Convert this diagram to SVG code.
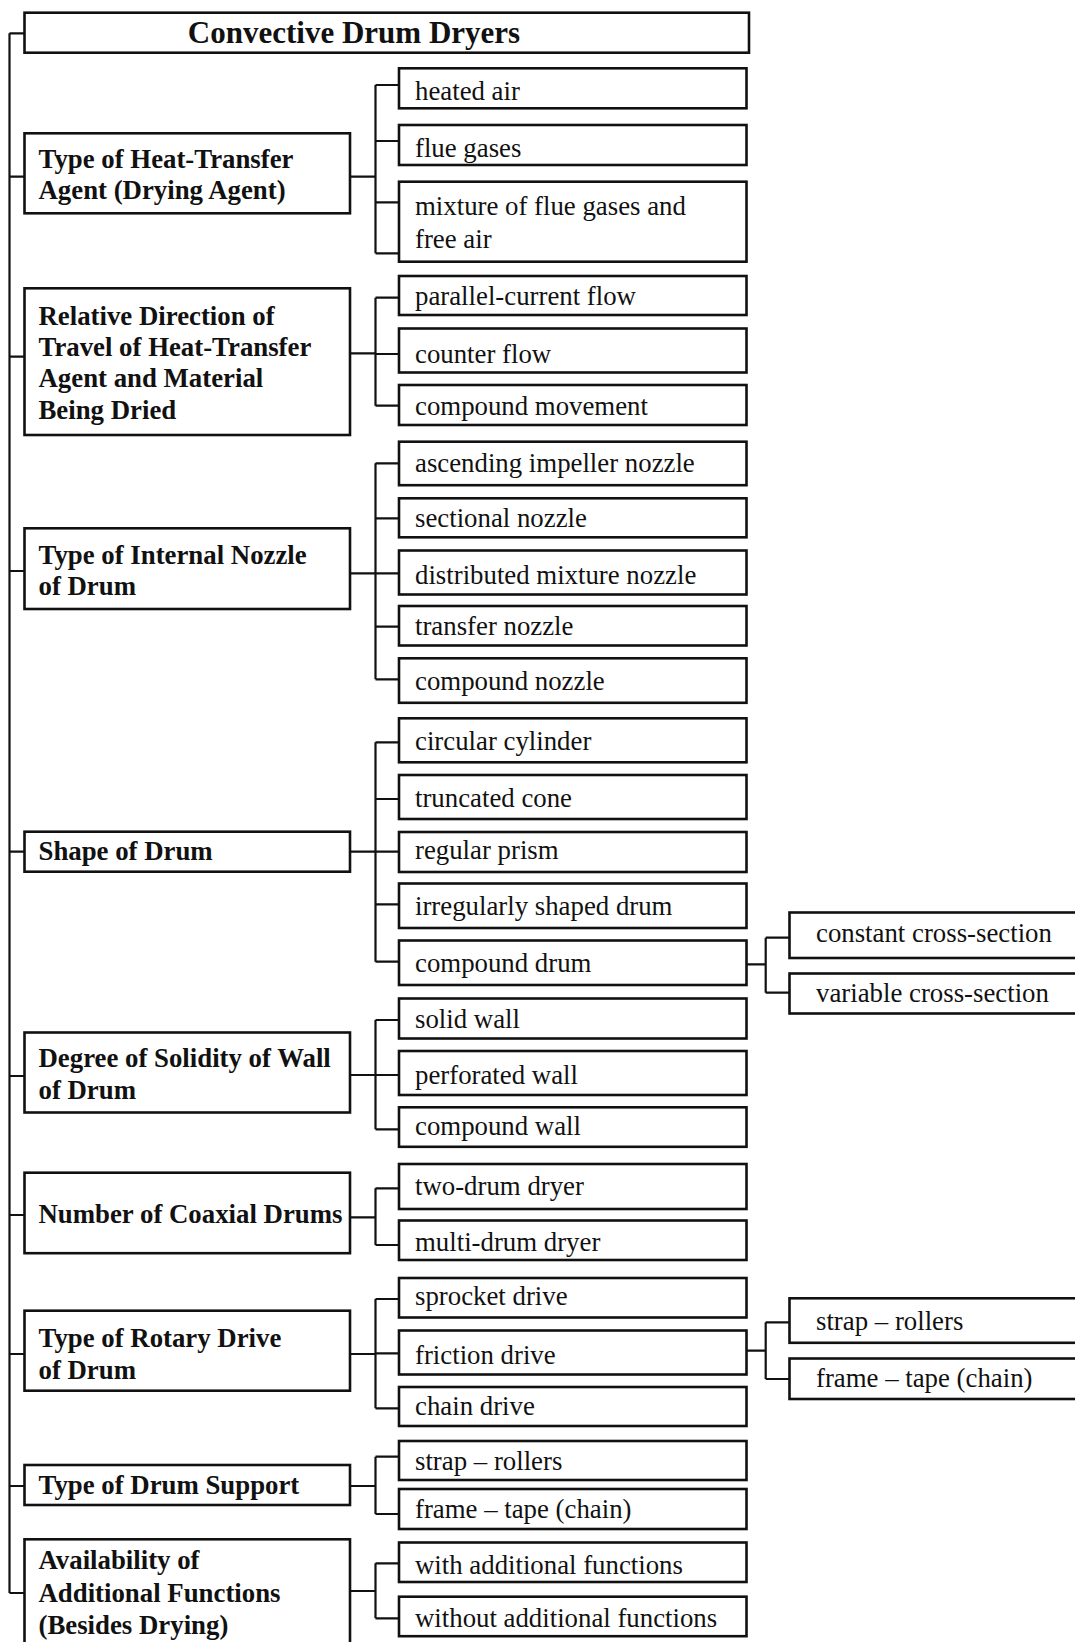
<svg xmlns="http://www.w3.org/2000/svg" width="1075" height="1642" viewBox="0 0 1075 1642">
<style>
.box{fill:#fff;stroke:#111;stroke-width:2.6}
.conn{fill:none;stroke:#111;stroke-width:2.2}
text{font-family:"Liberation Serif","Times New Roman",serif;fill:#111;font-size:26.8px}
.cat{font-weight:bold}
.title{font-weight:bold;font-size:31px;text-anchor:middle}
</style>
<rect width="1075" height="1642" fill="#fff"/>
<g id="connectors" class="conn">
<path d="M9.5 33.3V1593M9.5 33.3H24.5M9.5 176.7H24.5M9.5 356.7H24.5M9.5 571H24.5M9.5 851.7H24.5M9.5 1076H24.5M9.5 1215H24.5M9.5 1354H24.5M9.5 1486H24.5M9.5 1593H24.5"/>
<path d="M350 176.7H375.5M375.5 85V253.3M375.5 85H399M375.5 141H399M375.5 202.3H399M375.5 253.3H399"/>
<path d="M350 353.3H375.5M375.5 297.7V405.7M375.5 297.7H399M375.5 354H399M375.5 405.7H399"/>
<path d="M350 573.3H375.5M375.5 463.3V679.3M375.5 463.3H399M375.5 518.3H399M375.5 573.3H399M375.5 626.7H399M375.5 679.3H399"/>
<path d="M350 851.7H375.5M375.5 742.3V961.7M375.5 742.3H399M375.5 799H399M375.5 851.7H399M375.5 904.3H399M375.5 961.7H399"/>
<path d="M746.5 964.3H765.7M765.7 937.7V992.7M765.7 937.7H789.5M765.7 992.7H789.5"/>
<path d="M350 1075H375.5M375.5 1020V1129.3M375.5 1020H399M375.5 1075H399M375.5 1129.3H399"/>
<path d="M350 1217.3H375.5M375.5 1188.3V1245M375.5 1188.3H399M375.5 1245H399"/>
<path d="M350 1354H375.5M375.5 1299V1408.3M375.5 1299H399M375.5 1353.3H399M375.5 1408.3H399"/>
<path d="M746.5 1350.7H765.7M765.7 1322.3V1379M765.7 1322.3H789.5M765.7 1379H789.5"/>
<path d="M350 1486H375.5M375.5 1456.7V1514M375.5 1456.7H399M375.5 1514H399"/>
<path d="M350 1591H375.5M375.5 1563.3V1618.3M375.5 1563.3H399M375.5 1618.3H399"/>
</g>
<g id="title"><rect class="box" x="24.5" y="12.7" width="724.5" height="40"/><text class="title" x="354" y="43">Convective Drum Dryers</text></g>

<g id="cat1"><rect class="box" x="24.5" y="133.3" width="325.5" height="80"/><text class="cat" x="38.5" y="167.5">Type of Heat-Transfer</text><text class="cat" x="38.5" y="198.5">Agent (Drying Agent)</text></g>
<g id="heated-air"><rect class="box" x="399" y="68.3" width="347.5" height="40"/><text x="415" y="100">heated air</text></g>
<g id="flue-gases"><rect class="box" x="399" y="125" width="347.5" height="40"/><text x="415" y="157">flue gases</text></g>
<g id="mixture"><rect class="box" x="399" y="181.7" width="347.5" height="80"/><text x="415" y="215">mixture of flue gases and</text><text x="415" y="248">free air</text></g>

<g id="cat2"><rect class="box" x="24.5" y="288.3" width="325.5" height="146.7"/><text class="cat" x="38.5" y="324.5">Relative Direction of</text><text class="cat" x="38.5" y="356">Travel of Heat-Transfer</text><text class="cat" x="38.5" y="387">Agent and Material</text><text class="cat" x="38.5" y="418.5">Being Dried</text></g>
<g id="parallel"><rect class="box" x="399" y="276" width="347.5" height="39"/><text x="415" y="305">parallel-current flow</text></g>
<g id="counter"><rect class="box" x="399" y="328.5" width="347.5" height="44"/><text x="415" y="363">counter flow</text></g>
<g id="compound-movement"><rect class="box" x="399" y="385" width="347.5" height="40"/><text x="415" y="415">compound movement</text></g>

<g id="cat3"><rect class="box" x="24.5" y="528.3" width="325.5" height="80.7"/><text class="cat" x="38.5" y="563.5">Type of Internal Nozzle</text><text class="cat" x="38.5" y="595">of Drum</text></g>
<g id="ascending"><rect class="box" x="399" y="441.7" width="347.5" height="43.5"/><text x="415" y="472">ascending impeller nozzle</text></g>
<g id="sectional"><rect class="box" x="399" y="498.3" width="347.5" height="39"/><text x="415" y="527">sectional nozzle</text></g>
<g id="distributed"><rect class="box" x="399" y="550.5" width="347.5" height="44"/><text x="415" y="583.5">distributed mixture nozzle</text></g>
<g id="transfer"><rect class="box" x="399" y="606" width="347.5" height="39.5"/><text x="415" y="635">transfer nozzle</text></g>
<g id="compound-nozzle"><rect class="box" x="399" y="658.3" width="347.5" height="44.5"/><text x="415" y="690">compound nozzle</text></g>

<g id="cat4"><rect class="box" x="24.5" y="831.7" width="325.5" height="40"/><text class="cat" x="38.5" y="860">Shape of Drum</text></g>
<g id="circular"><rect class="box" x="399" y="718.3" width="347.5" height="44"/><text x="415" y="750">circular cylinder</text></g>
<g id="truncated"><rect class="box" x="399" y="775" width="347.5" height="44"/><text x="415" y="807">truncated cone</text></g>
<g id="prism"><rect class="box" x="399" y="832" width="347.5" height="40"/><text x="415" y="858.5">regular prism</text></g>
<g id="irregular"><rect class="box" x="399" y="883.5" width="347.5" height="44.5"/><text x="415" y="915">irregularly shaped drum</text></g>
<g id="compound-drum"><rect class="box" x="399" y="940.5" width="347.5" height="44.5"/><text x="415" y="972">compound drum</text></g>
<g id="constant"><rect class="box" x="789.5" y="912.5" width="300" height="45.5"/><text x="816" y="942">constant cross-section</text></g>
<g id="variable"><rect class="box" x="789.5" y="973.5" width="300" height="40"/><text x="816" y="1002">variable cross-section</text></g>

<g id="cat5"><rect class="box" x="24.5" y="1032.5" width="325.5" height="80"/><text class="cat" x="38.5" y="1067">Degree of Solidity of Wall</text><text class="cat" x="38.5" y="1098.5">of Drum</text></g>
<g id="solid"><rect class="box" x="399" y="998.5" width="347.5" height="40"/><text x="415" y="1028">solid wall</text></g>
<g id="perforated"><rect class="box" x="399" y="1051" width="347.5" height="44"/><text x="415" y="1083.5">perforated wall</text></g>
<g id="compound-wall"><rect class="box" x="399" y="1107.3" width="347.5" height="39.5"/><text x="415" y="1135">compound wall</text></g>

<g id="cat6"><rect class="box" x="24.5" y="1172.7" width="325.5" height="80.5"/><text class="cat" x="38.5" y="1222.5">Number of Coaxial Drums</text></g>
<g id="two-drum"><rect class="box" x="399" y="1164" width="347.5" height="45"/><text x="415" y="1195">two-drum dryer</text></g>
<g id="multi-drum"><rect class="box" x="399" y="1220.5" width="347.5" height="39.5"/><text x="415" y="1251">multi-drum dryer</text></g>

<g id="cat7"><rect class="box" x="24.5" y="1310.7" width="325.5" height="80"/><text class="cat" x="38.5" y="1347">Type of Rotary Drive</text><text class="cat" x="38.5" y="1378.5">of Drum</text></g>
<g id="sprocket"><rect class="box" x="399" y="1278" width="347.5" height="39.5"/><text x="415" y="1305">sprocket drive</text></g>
<g id="friction"><rect class="box" x="399" y="1330.5" width="347.5" height="44"/><text x="415" y="1363.5">friction drive</text></g>
<g id="chain"><rect class="box" x="399" y="1387" width="347.5" height="39"/><text x="415" y="1415">chain drive</text></g>
<g id="drive-strap"><rect class="box" x="789.5" y="1298.3" width="300" height="44.5"/><text x="816" y="1330">strap – rollers</text></g>
<g id="drive-frame"><rect class="box" x="789.5" y="1358.5" width="300" height="40.5"/><text x="816" y="1387">frame – tape (chain)</text></g>

<g id="cat8"><rect class="box" x="24.5" y="1465" width="325.5" height="40"/><text class="cat" x="38.5" y="1493.5">Type of Drum Support</text></g>
<g id="support-strap"><rect class="box" x="399" y="1441" width="347.5" height="39"/><text x="415" y="1470">strap – rollers</text></g>
<g id="support-frame"><rect class="box" x="399" y="1489" width="347.5" height="40"/><text x="415" y="1518">frame – tape (chain)</text></g>

<g id="cat9"><rect class="box" x="24.5" y="1539.3" width="325.5" height="130"/><text class="cat" x="38.5" y="1569">Availability of</text><text class="cat" x="38.5" y="1601.5">Additional Functions</text><text class="cat" x="38.5" y="1633.5">(Besides Drying)</text></g>
<g id="with"><rect class="box" x="399" y="1542.5" width="347.5" height="39.5"/><text x="415" y="1573.5">with additional functions</text></g>
<g id="without"><rect class="box" x="399" y="1596.7" width="347.5" height="39.5"/><text x="415" y="1627">without additional functions</text></g>
</svg>
